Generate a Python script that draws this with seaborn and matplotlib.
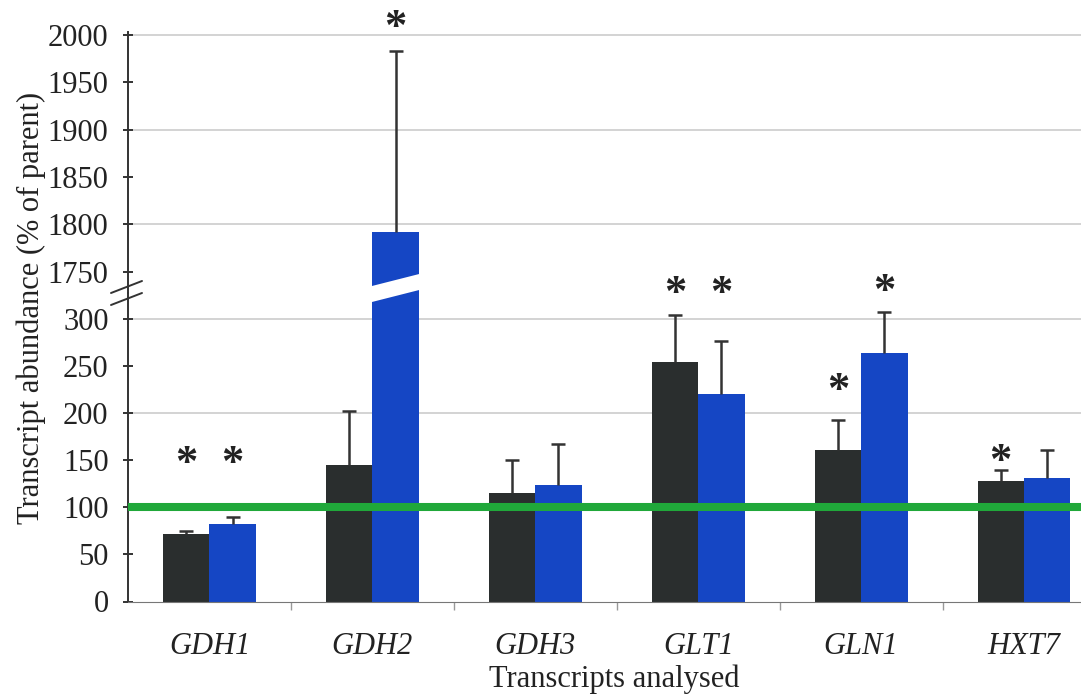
import matplotlib
matplotlib.use('Agg')
import matplotlib.pyplot as plt
import matplotlib.transforms as mtransforms
from matplotlib.ticker import FixedLocator
from matplotlib.patches import Polygon
from matplotlib.lines import Line2D
import seaborn as sns
import pandas as pd
import numpy as np

# transcript abundance, % of parent strain
genes = ['GDH1', 'GDH2', 'GDH3', 'GLT1', 'GLN1', 'HXT7']
strain_a = [72, 145, 115, 254, 161, 128]
strain_a_err = [3, 57, 35, 50, 31, 11]
strain_b = [82, 1792, 124, 220, 263, 131]
strain_b_err = [8, 191, 43, 56, 44, 30]
# height of the significance asterisks (None = no asterisk)
star_a = [155, None, None, 335, 232, 157]
star_b = [155, 2016, None, 335, 337, None]

dark = '#2a2e2e'
blue = '#1546c4'
green = '#20a83a'
serif = 'Liberation Serif'

sns.set_style('white')
plt.rcParams['font.family'] = [serif, 'DejaVu Serif']

df = pd.DataFrame({
    'gene': genes * 2,
    'strain': ['A'] * len(genes) + ['B'] * len(genes),
    'abundance': strain_a + strain_b,
})

W, H = 1081, 694
fig = plt.figure(figsize=(W / 100, H / 100), dpi=100)
left = 128 / W
y0, ybrk, ytop = 601.5, 293, 32
ax_lo = fig.add_axes([left, (H - y0) / H, 1 - left, (y0 - ybrk) / H])
ax_hi = fig.add_axes([left, (H - ybrk) / H, 1 - left, (ybrk - ytop) / H])
ax_hi.patch.set_alpha(0)

ax_lo.set_ylim(0, (y0 - ybrk) / 0.943)
ax_hi.set_ylim(1750 - (ybrk - 271.7) / 0.946, 2000 + (35 - ytop) / 0.946)

for ax in (ax_lo, ax_hi):
    sns.barplot(data=df, x='gene', y='abundance', hue='strain',
                palette=[dark, blue], width=0.57, errorbar=None,
                saturation=1, legend=False, linewidth=0, ax=ax, zorder=2)
    # one-sided (upper) error bars
    for cont, err in zip(ax.containers, [strain_a_err, strain_b_err]):
        xs = np.array([p.get_x() + p.get_width() / 2 for p in cont])
        hs = np.array([p.get_height() for p in cont])
        tops = hs + np.array(err)
        ax.vlines(xs, hs, tops, color='#333333', lw=1.8, zorder=3)
        ax.plot(xs, tops, ls='none', marker='_', ms=10, mew=1.8,
                color='#333333', zorder=3)
    ax.set_xlim(-0.5, 5.35)
    ax.set_xlabel('')
    ax.set_ylabel('')
    lo, hi = ax.get_ylim()
    for v in np.arange(np.ceil(lo / 100) * 100, hi, 100):
        if v > 0:
            ax.axhline(v, color='#cccccc', lw=1.2, zorder=0)
    ax.tick_params(axis='y', which='major', left=True, direction='inout',
                   length=7, width=1.4, color='#333333', pad=10.5,
                   labelsize=22, labelcolor='#222222')
    for s in ('top', 'right'):
        ax.spines[s].set_visible(False)
    ax.spines['left'].set_color('#333333')
    ax.spines['left'].set_linewidth(1.4)

ax_lo.set_ylim(0, (y0 - ybrk) / 0.943)
ax_hi.set_ylim(1750 - (ybrk - 271.7) / 0.946, 2000 + (35 - ytop) / 0.946)
ax_lo.set_yticks(np.arange(0, 301, 50))
ax_hi.set_yticks(np.arange(1750, 2001, 50))
ax_hi.spines['bottom'].set_visible(False)
ax_hi.tick_params(axis='x', which='both', bottom=False, labelbottom=False)

ax_lo.spines['bottom'].set_color('#777777')
ax_lo.set_xticks(range(len(genes)))
ax_lo.set_xticklabels(genes, fontstyle='italic', fontsize=22, color='#222222')
ax_lo.xaxis.set_minor_locator(FixedLocator(np.arange(0.5, 5.5, 1)))
ax_lo.tick_params(axis='x', which='major', length=0, pad=22)
ax_lo.tick_params(axis='x', which='minor', bottom=True, direction='out',
                  length=6, width=1, color='#999999')
ax_lo.set_xlabel('Transcripts analysed', fontsize=22, color='#222222')
ax_lo.xaxis.set_label_coords((614 - 128) / (W - 128), -0.205)

# reference line at 100 %
ax_lo.axhline(100, color=green, lw=5.8, zorder=4)

# significance asterisks
for cont, stars in zip(ax_lo.containers, [star_a, star_b]):
    for p, s in zip(cont, stars):
        if s is None:
            continue
        target = ax_hi if s > 1000 else ax_lo
        tr = mtransforms.offset_copy(target.transData, fig=fig, y=-6,
                                     units='points')
        target.text(p.get_x() + p.get_width() / 2, s, '*', ha='center',
                    va='center', fontsize=32, fontweight='bold',
                    color='#222222', clip_on=False, zorder=5,
                    fontfamily=serif, transform=tr)

fig.text(31 / W, 1 - 308 / H, 'Transcript abundance (% of parent)',
         rotation=90, ha='center', va='center', fontsize=22, color='#222222')

# axis break marks
fig.canvas.draw()
sx, sy = ax_lo.transAxes.transform((0, 1))
for dy in (6, -6):
    fig.add_artist(Line2D([(sx - 17) / W, (sx + 14) / W],
                          [(sy + dy - 6) / H, (sy + dy + 6) / H],
                          color='#333333', lw=1.4))
# break across the tall GDH2 bar
bar = ax_lo.containers[1][1]
bx0 = ax_lo.transData.transform((bar.get_x(), 0))[0]
bx1 = ax_lo.transData.transform((bar.get_x() + bar.get_width(), 0))[0]
cx = (bx0 + bx1) / 2
w = (bx1 - bx0) / 2 + 4
yc = sy + 5
slope = 0.254
h = 8
pts = [(cx - w, yc - slope * w - h), (cx + w, yc + slope * w - h),
       (cx + w, yc + slope * w + h), (cx - w, yc - slope * w + h)]
fig.add_artist(Polygon([(x / W, y / H) for x, y in pts], closed=True,
                       facecolor='white', edgecolor='none', zorder=10))

fig.savefig('out.png', dpi=100)
